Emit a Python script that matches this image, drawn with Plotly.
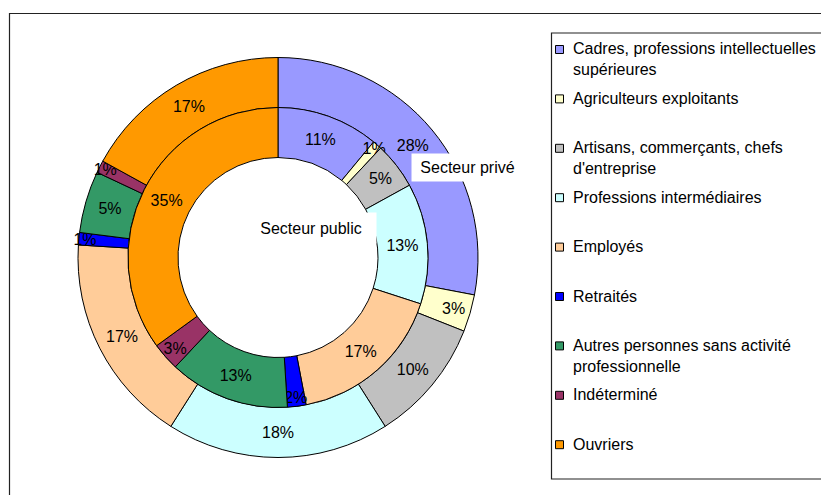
import plotly.graph_objects as go

categories = [
    "Cadres, professions intellectuelles<br>supérieures",
    "Agriculteurs exploitants",
    "Artisans, commerçants, chefs<br>d'entreprise",
    "Professions intermédiaires",
    "Employés",
    "Retraités",
    "Autres personnes sans activité<br>professionnelle",
    "Indéterminé",
    "Ouvriers",
]
prive = [28, 3, 10, 18, 17, 1, 5, 1, 17]
public = [11, 1, 5, 13, 17, 2, 13, 3, 35]
colors = ["#9999FF", "#FFFFCC", "#C0C0C0", "#CCFFFF", "#FFCC99",
          "#0000FF", "#339966", "#993366", "#FF9900"]
series_names = ["Secteur privé", "Secteur public"]

W, H = 821, 495
FONT = "Arial, Liberation Sans, sans-serif"
FS = 16

def px(x):
    return x / W

def py(y):
    return 1 - y / H

cx, cy = 278, 257.5
r_out, r_mid, r_in = 200, 150, 100

fig = go.Figure()
common = dict(
    sort=False, direction="clockwise", rotation=0,
    marker=dict(colors=colors, line=dict(color="black", width=1)),
    texttemplate="%{value}%", textposition="inside",
    insidetextorientation="horizontal",
    textfont=dict(family=FONT, size=FS, color="black"),
    hoverinfo="label+value", showlegend=False,
)
fig.add_trace(go.Pie(
    labels=categories, values=prive, name=series_names[0],
    hole=r_mid / r_out,
    domain=dict(x=[px(cx - r_out), px(cx + r_out)], y=[py(cy + r_out), py(cy - r_out)]),
    **common,
))
fig.add_trace(go.Pie(
    labels=categories, values=public, name=series_names[1],
    hole=r_in / r_mid,
    domain=dict(x=[px(cx - r_mid), px(cx + r_mid)], y=[py(cy + r_mid), py(cy - r_mid)]),
    **common,
))

shapes = []
annotations = []
# outer frame
shapes.append(dict(type="rect", xref="paper", yref="paper",
                   x0=px(9.5), x1=px(900), y0=py(600), y1=py(13.5),
                   line=dict(color="#222222", width=1.2), fillcolor="rgba(0,0,0,0)", layer="below"))
# legend box
shapes.append(dict(type="rect", xref="paper", yref="paper",
                   x0=px(551.5), x1=px(900), y0=py(479), y1=py(33),
                   line=dict(color="#222222", width=1.2), fillcolor="white", layer="below"))

y0, step = 49.5, 49.4
for i, (lab, col) in enumerate(zip(categories, colors)):
    yc = y0 + step * i
    shapes.append(dict(type="rect", xref="paper", yref="paper",
                       x0=px(555.5), x1=px(563.5), y0=py(yc + 4), y1=py(yc - 4),
                       line=dict(color="black", width=1), fillcolor=col))
    annotations.append(dict(xref="paper", yref="paper", x=px(571), y=py(yc - 11),
                            xanchor="left", yanchor="top", align="left",
                            text=lab, showarrow=False,
                            font=dict(family=FONT, size=FS, color="black")))

annotations.append(dict(xref="paper", yref="paper", x=px(467), y=py(152.5),
                        text=series_names[0], showarrow=False,
                        bgcolor="white", width=101, height=17, borderpad=5,
                        font=dict(family=FONT, size=FS, color="black")))
annotations.append(dict(xref="paper", yref="paper", x=px(311), y=py(228),
                        text=series_names[1], showarrow=False,
                        bgcolor="white", width=120, height=20, borderpad=5,
                        font=dict(family=FONT, size=FS, color="black")))

fig.update_layout(
    width=W, height=H,
    margin=dict(l=0, r=0, t=0, b=0),
    paper_bgcolor="white", plot_bgcolor="white",
    showlegend=False,
    uniformtext=dict(minsize=FS, mode="show"),
    shapes=shapes, annotations=annotations,
    font=dict(family=FONT, size=FS, color="black"),
)

fig.write_html("out.html", config={"displayModeBar": False},
               post_script="document.body.style.margin='0';")
